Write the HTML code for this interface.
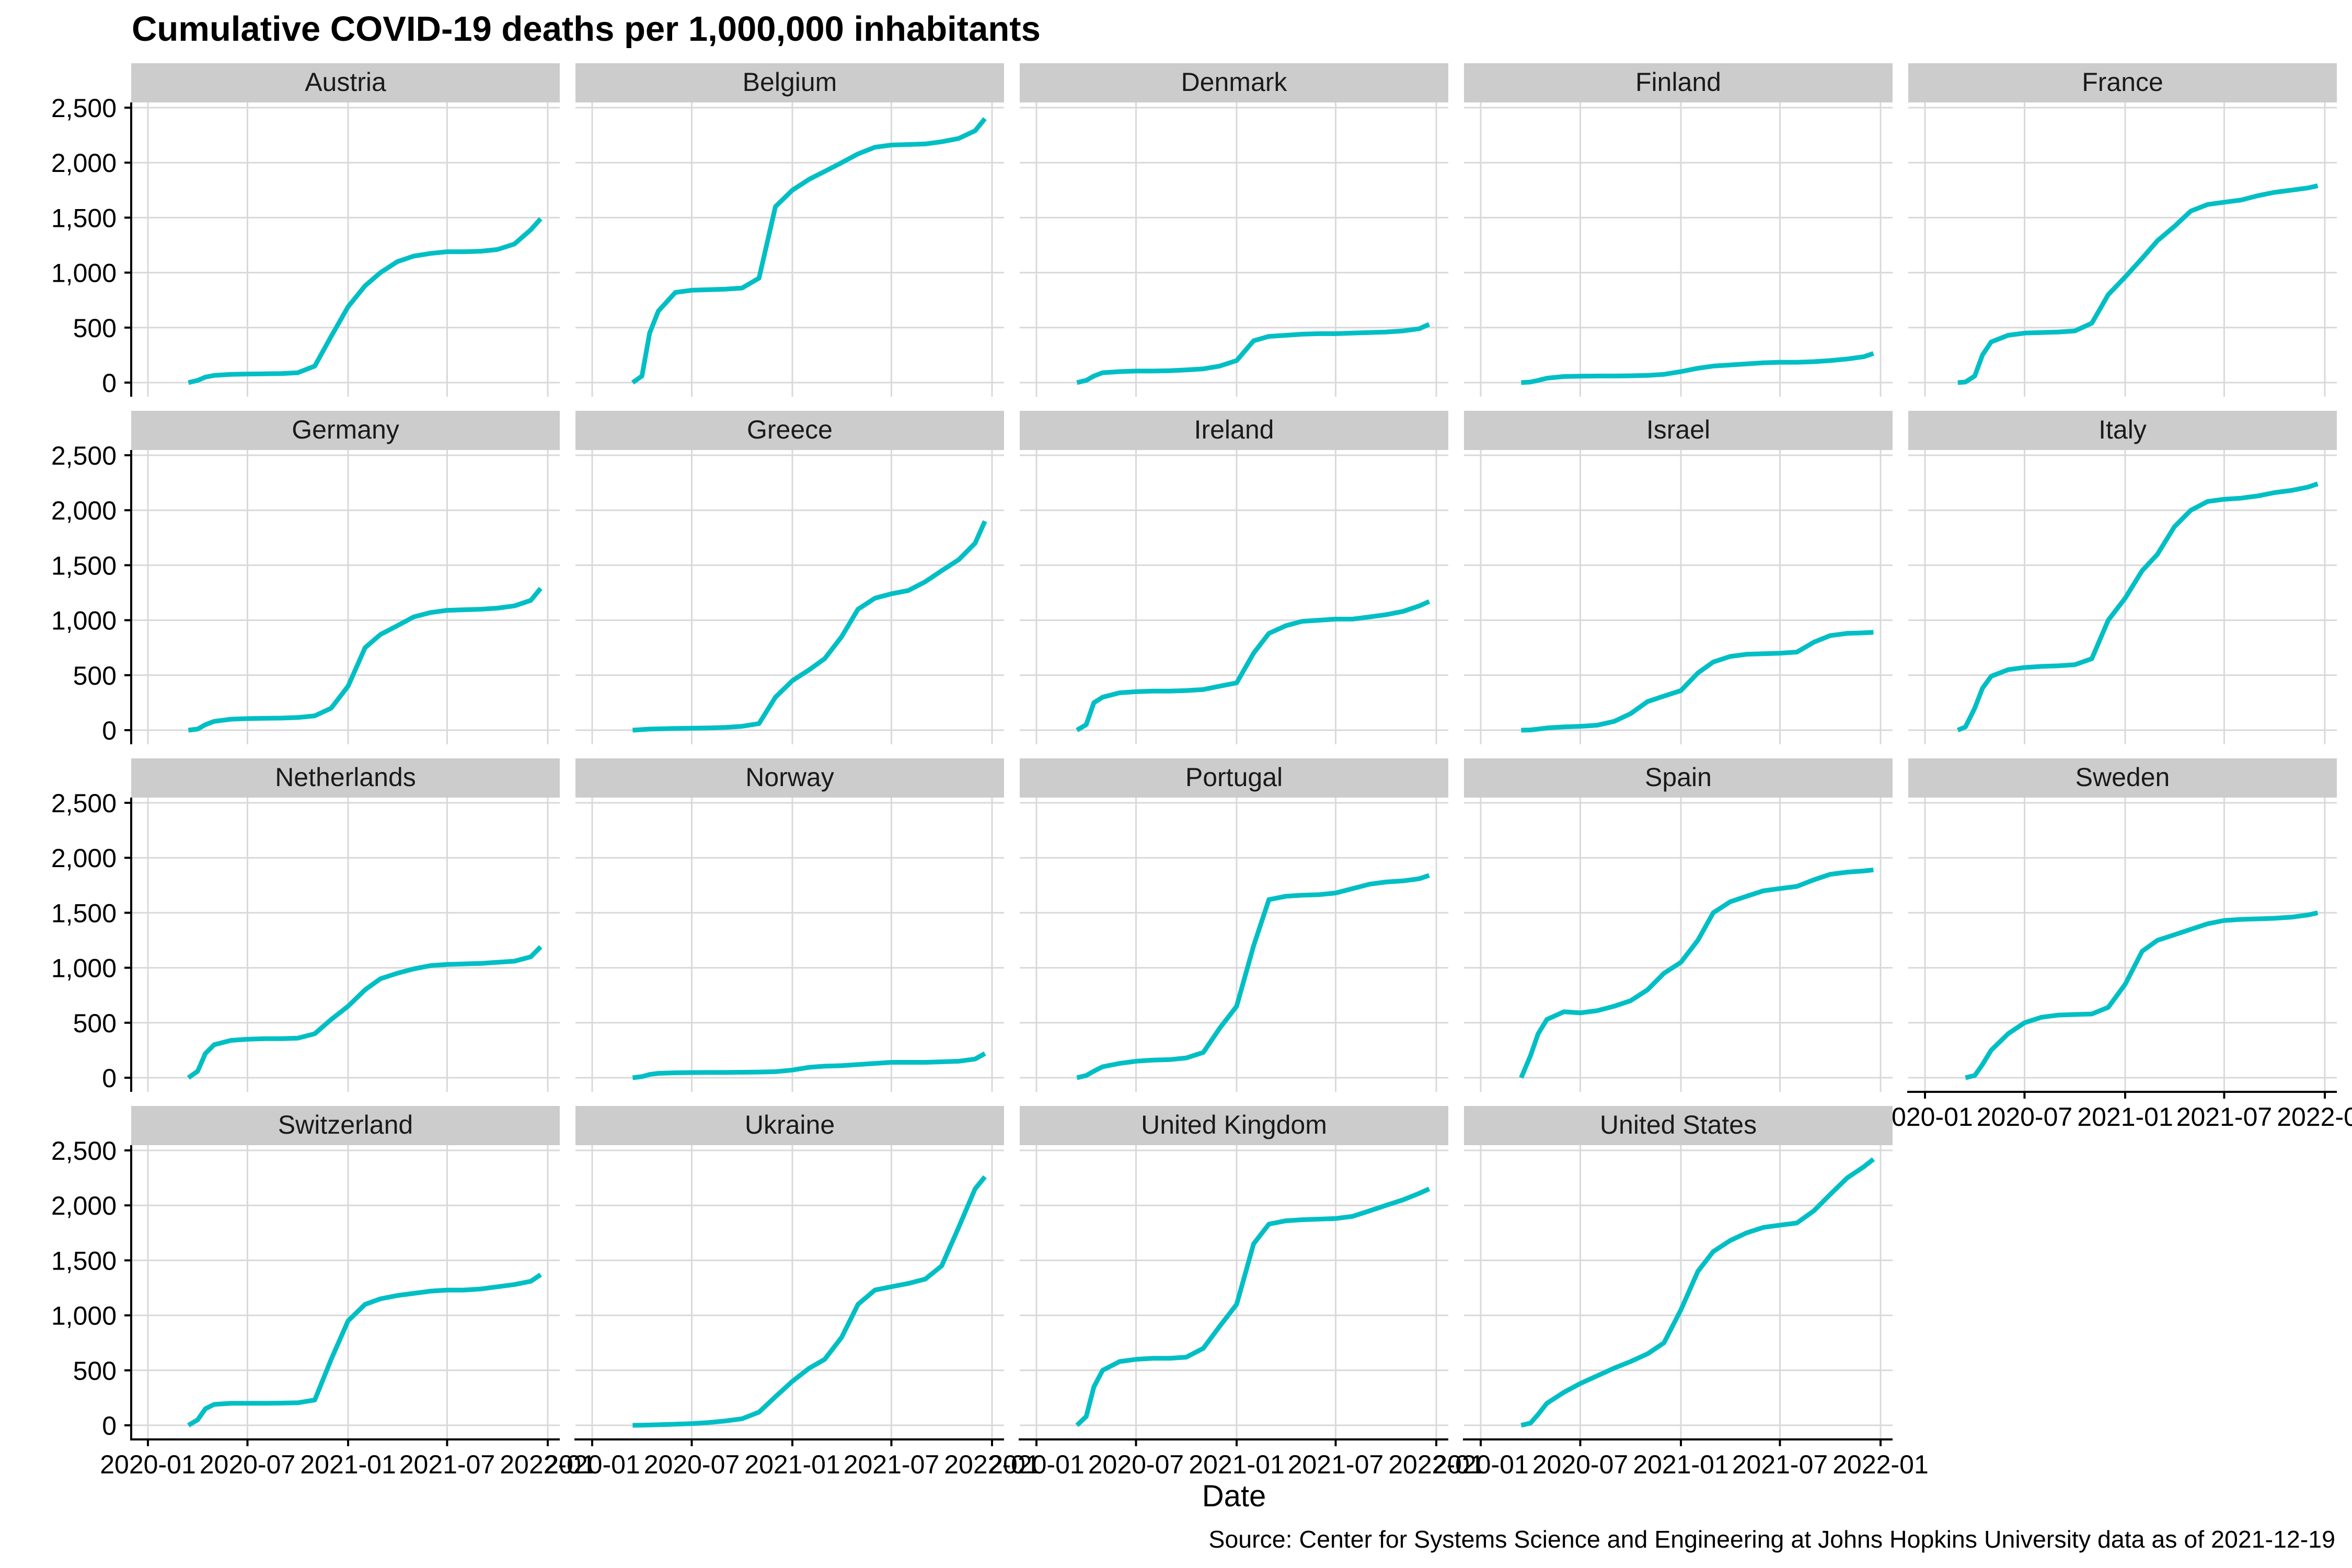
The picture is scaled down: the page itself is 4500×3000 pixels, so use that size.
<!DOCTYPE html>
<html><head><meta charset="utf-8"><style>
html,body{margin:0;padding:0;background:#fff;}
svg{display:block;font-family:"Liberation Sans",Arial,sans-serif;}
</style></head><body>
<svg id="chart" width="4500" height="3000" viewBox="0 0 4500 3000" xmlns="http://www.w3.org/2000/svg">
<rect width="4500" height="3000" fill="#fff"/>
<text x="252" y="78" font-size="67" font-weight="bold" fill="#000">Cumulative COVID-19 deaths per 1,000,000 inhabitants</text>
<text x="2361" y="2882" font-size="58" text-anchor="middle" fill="#000">Date</text>
<text x="4468" y="2961" font-size="46.5" text-anchor="end" fill="#000">Source: Center for Systems Science and Engineering at Johns Hopkins University data as of 2021-12-19</text>
<g id="panels"></g>
</svg>
<script>
const dates = ["2020-03-01","2020-03-15","2020-04-01","2020-04-15","2020-05-01","2020-06-01","2020-07-01","2020-08-01","2020-09-01","2020-10-01","2020-11-01","2020-12-01","2021-01-01","2021-02-01","2021-03-01","2021-04-01","2021-05-01","2021-06-01","2021-07-01","2021-08-01","2021-09-01","2021-10-01","2021-11-01","2021-12-01","2021-12-19"];
const countries = ["Austria","Belgium","Denmark","Finland","France","Germany","Greece","Ireland","Israel","Italy","Netherlands","Norway","Portugal","Spain","Sweden","Switzerland","Ukraine","United Kingdom","United States"];
const austria = [null,0,20,50,65,75,78,80,82,90,150,420,690,880,1000,1100,1150,1175,1190,1190,1195,1210,1260,1390,1490];
const belgium = [null,0,60,450,650,820,840,845,850,860,950,1600,1750,1850,1920,2000,2080,2140,2160,2165,2170,2190,2220,2290,2400];
const denmark = [null,0,20,60,90,100,105,105,108,115,125,150,200,380,420,430,440,445,445,450,455,460,470,490,530];
const finland = [null,0,5,20,40,55,58,60,60,62,65,75,100,130,150,160,170,180,185,185,190,200,215,235,265];
const france = [0,5,60,250,370,430,450,455,460,470,540,800,960,1130,1290,1420,1560,1620,1640,1660,1700,1730,1750,1770,1790];
const germany = [null,0,10,50,80,100,105,108,110,115,130,200,400,750,870,950,1030,1070,1090,1095,1100,1110,1130,1180,1290];
const greece = [null,0,5,10,12,15,18,20,25,35,60,300,450,550,650,850,1100,1200,1240,1270,1350,1450,1550,1700,1900];
const ireland = [null,0,50,250,300,340,350,355,355,360,370,400,430,700,880,950,990,1000,1010,1010,1030,1050,1080,1130,1170];
const israel = [null,0,2,10,20,30,35,45,80,150,260,310,360,520,620,670,690,695,700,710,800,860,880,885,890];
const italy = [0,30,200,380,490,550,570,580,585,595,650,1000,1200,1450,1600,1850,2000,2080,2100,2110,2130,2160,2180,2210,2240];
const netherlands = [null,0,60,220,300,340,350,355,355,360,400,530,650,800,900,950,990,1020,1030,1035,1040,1050,1060,1100,1190];
const norway = [null,0,10,30,40,45,47,48,48,50,52,55,70,95,105,110,120,130,140,140,140,145,150,170,220];
const portugal = [null,0,20,60,100,130,150,160,165,180,230,450,650,1200,1620,1650,1660,1665,1680,1720,1760,1780,1790,1810,1840];
const spain = [null,0,200,400,530,600,590,610,650,700,800,950,1050,1250,1500,1600,1650,1700,1720,1740,1800,1850,1870,1880,1890];
const sweden = [null,0,20,120,250,400,500,550,570,575,580,640,850,1150,1250,1300,1350,1400,1430,1440,1445,1450,1460,1480,1500];
const switzerland = [null,0,50,150,190,200,200,200,202,205,230,600,950,1100,1150,1180,1200,1220,1230,1230,1240,1260,1280,1310,1370];
const ukraine = [null,0,1,3,5,10,15,25,40,60,120,260,400,520,600,800,1100,1230,1260,1290,1330,1450,1800,2150,2260];
const unitedKingdom = [null,0,80,350,500,580,600,610,610,620,700,900,1100,1650,1830,1860,1870,1875,1880,1900,1950,2000,2050,2110,2150];
const unitedStates = [null,0,20,100,200,300,380,450,520,580,650,750,1050,1400,1580,1680,1750,1800,1820,1840,1950,2100,2250,2350,2420];
const seriesValues = [austria,belgium,denmark,finland,france,germany,greece,ireland,israel,italy,netherlands,norway,portugal,spain,sweden,switzerland,ukraine,unitedKingdom,unitedStates];
const yTicks = [0,500,1000,1500,2000,2500];
const yTickLabels = ["0","500","1,000","1,500","2,000","2,500"];
const xTicks = ["2020-01-01","2020-07-01","2021-01-01","2021-07-01","2022-01-01"];
const xTickLabels = ["2020-01","2020-07","2021-01","2021-07","2022-01"];

const NS="http://www.w3.org/2000/svg";
const root=document.getElementById('panels');
const PW=820, PH=563, STRIP=75;
const t0=Date.parse("2020-01-01"), t1=Date.parse("2022-01-01");
function xs(d,left){return left+32+(Date.parse(d)-t0)/(t1-t0)*765;}
function ys(v,top){return top+536-v/2500*526;}
function mk(tag,attrs,parent){const e=document.createElementNS(NS,tag);for(const k in attrs)e.setAttribute(k,attrs[k]);parent.appendChild(e);return e;}

countries.forEach((name,i)=>{
  const col=i%5,row=Math.floor(i/5);
  const left=251+850*col, stripTop=121+665*row, top=stripTop+STRIP;
  const g=mk('g',{},root);
  
  
  const strip=mk('rect',{x:left,y:stripTop,width:PW,height:STRIP,fill:'#cccccc'},g);
  
  
  const st=mk('text',{x:left+PW/2,y:stripTop+53,'font-size':50,'text-anchor':'middle',fill:'#1a1a1a'},g);
  st.textContent=name;
  
  
  yTicks.forEach(v=>{
    const gl=mk('line',{x1:left,x2:left+PW,y1:ys(v,top),y2:ys(v,top),stroke:'#d9d9d9','stroke-width':3},g);
    
    
  });
  xTicks.forEach(d=>{
    const gl=mk('line',{x1:xs(d,left),x2:xs(d,left),y1:top,y2:top+PH,stroke:'#d9d9d9','stroke-width':3},g);
    
    
  });
  const vals=seriesValues[i];
  const pts=[];
  vals.forEach((v,k)=>{if(v!==null)pts.push(xs(dates[k],left).toFixed(1)+','+ys(v,top).toFixed(1));});
  const pl=mk('polyline',{points:pts.join(' '),fill:'none',stroke:'#00BFC4','stroke-width':9,'stroke-linejoin':'round'},g);
  
  
  if(col===0){
    const ax=mk('line',{x1:left,x2:left,y1:top,y2:top+PH,stroke:'#000','stroke-width':4},g);
    
    
    yTicks.forEach((v,k)=>{
      mk('line',{x1:left-13,x2:left,y1:ys(v,top),y2:ys(v,top),stroke:'#000','stroke-width':4},g);
      const tl=mk('text',{x:left-28,y:ys(v,top)+18,'font-size':50,'text-anchor':'end',fill:'#000'},g);
      tl.textContent=yTickLabels[k];
      
      
    });
  }
  if(row===3||(row===2&&col===4)){
    const ax=mk('line',{x1:left-2,x2:left+PW,y1:top+PH,y2:top+PH,stroke:'#000','stroke-width':4},g);
    
    
    xTicks.forEach((d,k)=>{
      mk('line',{x1:xs(d,left),x2:xs(d,left),y1:top+PH,y2:top+PH+13,stroke:'#000','stroke-width':4},g);
      const tl=mk('text',{x:xs(d,left),y:top+PH+65,'font-size':50,'text-anchor':'middle',fill:'#000'},g);
      tl.textContent=xTickLabels[k];
      
      
    });
  }
});
</script>
</body></html>
